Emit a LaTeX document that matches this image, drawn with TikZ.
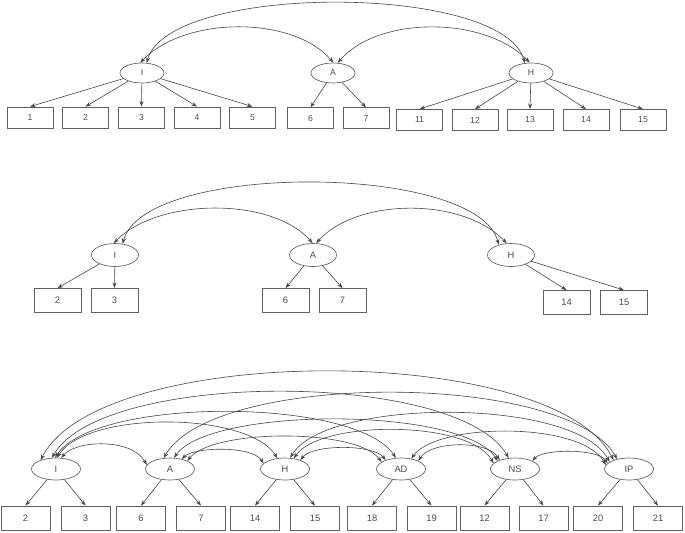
\documentclass[tikz,border=0pt]{standalone}
\usepackage{fontspec}
\setmainfont{Liberation Sans}
\usetikzlibrary{arrows.meta,shapes.geometric}
\newcommand\covarc[6]{\draw[cov] (#1) .. controls +(#3,-#4) and +(-#5,-#6) .. (#2);}
\begin{document}
\begin{tikzpicture}[x=0.75pt,y=-0.75pt,
  line/.style={draw=black!72, line width=0.45pt},
  arr/.style={line, -{Stealth[length=4.2pt,width=3pt]}},
  cov/.style={line, {Stealth[length=4.2pt,width=3pt]}-{Stealth[length=4.2pt,width=3pt]}},
  boxa/.style={draw=black!62, line width=0.6pt, rectangle, inner sep=0pt, text=black!70,
    minimum width=34.5pt, minimum height=15.75pt, font=\fontsize{6.5}{7}\selectfont},
  boxb/.style={boxa, minimum width=35.25pt, minimum height=18pt, font=\fontsize{7}{8}\selectfont},
  boxc/.style={boxa, minimum width=36.75pt, minimum height=18pt, font=\fontsize{7}{8}\selectfont},
  lata/.style={draw=black!62, line width=0.5pt, ellipse, inner sep=0pt, text=black!70,
    minimum width=33pt, minimum height=15pt, font=\fontsize{6.5}{7}\selectfont},
  latb/.style={lata, minimum width=35.25pt, minimum height=17.25pt, font=\fontsize{7}{8}\selectfont},
  latc/.style={lata, minimum width=36.75pt, minimum height=16.5pt, font=\fontsize{7}{8}\selectfont}
]
\useasboundingbox (0,0) rectangle (685,532);

% ---------------- top diagram ----------------
\node[lata] (tI) at (142,73) {I};
\node[lata] (tA) at (333,73) {A};
\node[lata] (tH) at (531,73) {H};
\node[boxa] (t1) at (30,117.5) {1};
\node[boxa] (t2) at (85.5,117.5) {2};
\node[boxa] (t3) at (141.5,117.5) {3};
\node[boxa] (t4) at (197,117.5) {4};
\node[boxa] (t5) at (252.5,117.5) {5};
\node[boxa] (t6) at (310.5,118.3) {6};
\node[boxa] (t7) at (366,118.3) {7};
\node[boxa] (t11) at (419.5,120) {11};
\node[boxa] (t12) at (475,120) {12};
\node[boxa] (t13) at (530,120) {13};
\node[boxa] (t14) at (586,120) {14};
\node[boxa] (t15) at (643,120) {15};
\foreach \b in {1,2,3,4,5} \draw[arr] (tI) -- (t\b.north);
\foreach \b in {6,7} \draw[arr] (tA) -- (t\b.north);
\foreach \b in {11,12,13,14,15} \draw[arr] (tH) -- (t\b.north);
\covarc{tI.65}{tH.122}{22}{80}{22}{80}
\covarc{tI.100}{tA.88}{45}{47}{40}{47}
\covarc{tA.65}{tH.97}{40}{47}{45}{47}

% ---------------- middle diagram ----------------
\node[latb] (mI) at (115,255) {I};
\node[latb] (mA) at (313,255) {A};
\node[latb] (mH) at (511,255) {H};
\node[boxb] (m2) at (57.5,300.5) {2};
\node[boxb] (m3) at (114.5,300.5) {3};
\node[boxb] (m6) at (285.5,300.5) {6};
\node[boxb] (m7) at (342.5,300.5) {7};
\node[boxb] (m14) at (566.5,302.5) {14};
\node[boxb] (m15) at (624,302.5) {15};
\foreach \b in {2,3} \draw[arr] (mI) -- (m\b.north);
\foreach \b in {6,7} \draw[arr] (mA) -- (m\b.north);
\foreach \b in {14,15} \draw[arr] (mH) -- (m\b.north);
\covarc{mI.56}{mH.140}{22}{82}{22}{82}
\covarc{mI.96}{mA.92}{45}{46}{40}{46}
\covarc{mA.75}{mH.110}{40}{45}{45}{47}

% ---------------- bottom diagram ----------------
\node[latc] (bI) at (56,469) {I};
\node[latc] (bA) at (170,469) {A};
\node[latc] (bH) at (285,469) {H};
\node[latc] (bAD) at (401,469) {AD};
\node[latc] (bNS) at (515,469) {NS};
\node[latc] (bIP) at (629,469) {IP};
\node[boxc] (b2) at (25.5,518) {2};
\node[boxc] (b3) at (85.5,518) {3};
\node[boxc] (b6) at (141,518) {6};
\node[boxc] (b7) at (201,518) {7};
\node[boxc] (b14) at (255,518) {14};
\node[boxc] (b15) at (315,518) {15};
\node[boxc] (b18) at (372,518) {18};
\node[boxc] (b19) at (431.5,518) {19};
\node[boxc] (b12) at (484.5,518) {12};
\node[boxc] (b17) at (543.5,518) {17};
\node[boxc] (b20) at (598,518) {20};
\node[boxc] (b21) at (658,518) {21};
\foreach \f/\b in {I/2,I/3,A/6,A/7,H/14,H/15,AD/18,AD/19,NS/12,NS/17,IP/20,IP/21}
  \draw[arr] (b\f) -- (b\b.north);
\covarc{bI.150}{bIP.150}{60}{118}{60}{118}
\covarc{bI.110}{bNS.120}{50}{88}{50}{88}
\covarc{bA.120}{bIP.140}{50}{87}{50}{88}
\covarc{bI.95}{bAD.115}{40}{61}{40}{61}
\covarc{bH.65}{bIP.160}{35}{60}{35}{65}
\covarc{bI.85}{bH.125}{30}{47}{30}{47}
\covarc{bA.70}{bNS.155}{35}{51}{35}{55}
\covarc{bH.50}{bNS.165}{25}{38}{25}{44}
\covarc{bAD.45}{bIP.170}{25}{36}{25}{44}
\covarc{bA.25}{bAD.160}{25}{32}{25}{34}
\covarc{bI.65}{bA.170}{15}{18}{15}{27}
\covarc{bA.40}{bH.165}{12}{12}{12}{18}
\covarc{bH.30}{bAD.150}{12}{16}{12}{16}
\covarc{bAD.25}{bNS.150}{12}{20}{12}{20}
\covarc{bNS.25}{bIP.165}{10}{12}{10}{15}
\end{tikzpicture}
\end{document}
